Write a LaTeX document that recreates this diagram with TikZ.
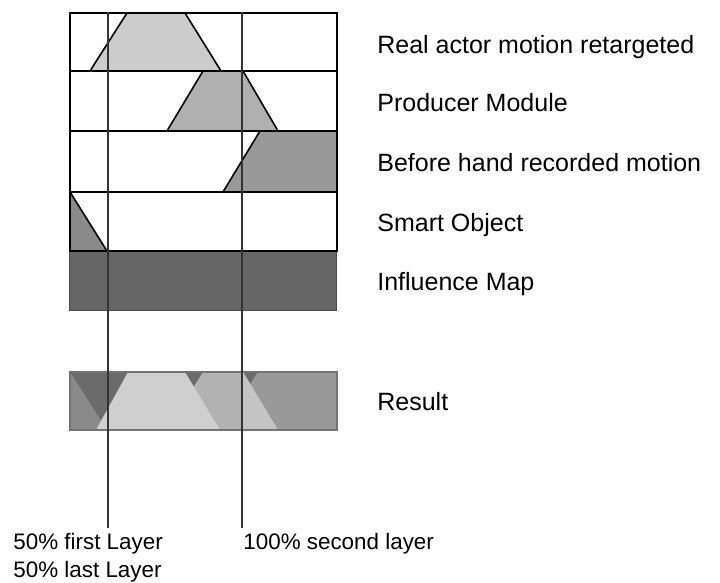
\documentclass[tikz,border=0pt]{standalone}
\usepackage{fontspec}
\setmainfont{Liberation Sans}
\usepackage{tikz}

\begin{document}
\begin{tikzpicture}[x=0.5pt,y=-0.5pt,
        lab/.style={anchor=base west,inner sep=0pt,font=\fontsize{12.5}{15}\selectfont},
        pct/.style={anchor=base west,inner sep=0pt,font=\fontsize{11.2}{14}\selectfont},
        edge/.style={line width=0.8pt}]
        \useasboundingbox (0,0) rectangle (720,583);
        % layers
        \filldraw[black!20,draw=black,edge] (90,71)--(127,13)--(185,13)--(221,71)--cycle;
        \filldraw[black!31,draw=black,edge] (167,131)--(203,71)--(243,71)--(278,131)--cycle;
        \filldraw[black!40,draw=black,edge] (223,192)--(260,131)--(337,131)--(337,192)--cycle;
        \filldraw[black!46,draw=black,edge] (70,192)--(107,251)--(70,251)--cycle;
        \filldraw[black!60,draw=black!70,line width=0.5pt] (70,251) rectangle (337,311);
        \foreach \a/\b in {13/71,71/131,131/192,192/251}
            \draw[line width=1.1pt] (70,\a) rectangle (337,\b);
        % result
        \fill[black!58] (70,372) rectangle (337,430);
        \fill[black!40] (258,372)--(337,372)--(337,430)--(220,430)--cycle;
        \fill[black!46] (70,372)--(107,430)--(70,430)--cycle;
        \fill[black!30] (203,372)--(243,372)--(278,430)--(167,430)--cycle;
        \fill[black!23] (242,372)--(243,372)--(278,430)--(242,430)--cycle;
        \fill[black!19] (128,372)--(185,372)--(220,430)--(96,430)--cycle;
        \draw[black!55,line width=0.7pt] (70,372) rectangle (337,430);
        % blend lines
        \coordinate (firstTop) at (108,12); \coordinate (firstEnd) at (108,528);
        \coordinate (secondTop) at (242,12); \coordinate (secondEnd) at (242,528);
        \draw[black!80,line width=1.2pt] (firstTop)--(firstEnd);
        \draw[black!80,line width=1.2pt] (secondTop)--(secondEnd);
        \node[lab] (real) at (377,54) {Real actor motion retargeted};
        \node[lab] (producer) at (377,112) {Producer Module};
        \node[lab] (before) at (377,172) {Before hand recorded motion};
        \node[lab] (smart) at (377,232) {Smart Object};
        \node[lab] (influence) at (377,291) {Influence Map};
        \node[lab] (result) at (377,411) {Result};
        \node[pct] (first) at (13,550) {50\% first Layer};
        \node[pct] (last) at (13,578) {50\% last Layer};
        \node[pct] (second) at (243,550) {100\% second layer};
    \end{tikzpicture}
\end{document}
